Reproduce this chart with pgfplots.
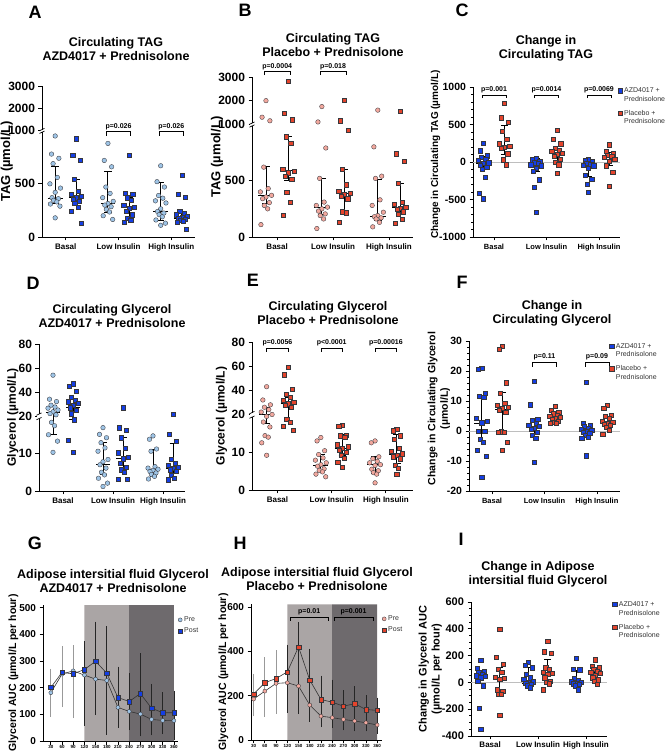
\documentclass[border=0pt]{standalone}
\usepackage{fontspec}
\setmainfont{Liberation Sans}
\usepackage{pgfplots}
\pgfplotsset{compat=1.18}
\usetikzlibrary{calc}

\definecolor{preblue}{RGB}{158,196,230}
\definecolor{postblue}{RGB}{20,62,228}
\definecolor{prered}{RGB}{242,168,158}
\definecolor{postred}{RGB}{228,68,44}
\definecolor{edge}{RGB}{55,55,60}
\definecolor{zl}{RGB}{190,190,190}
\definecolor{shL}{RGB}{170,165,165}
\definecolor{shD}{RGB}{110,106,109}

\newcommand{\tl}[2]{\begin{tabular}[t]{@{}l@{}}#1\\#2\end{tabular}}

\pgfplotsset{
 pc/.style={only marks, mark=*, mark size=2.3pt, mark options={fill=#1, draw=edge, line width=0.35pt}},
 ps/.style={only marks, mark=square*, mark size=2.1pt, mark options={fill=#1, draw=edge, line width=0.35pt}},
 iqr/.style={black, line width=0.9pt, forget plot, mark=none},
 gp/.style={scale only axis, anchor=south west, axis lines=left, axis line style={-, line width=0.9pt},
   tick style={black, line width=0.8pt}, tick align=outside, major tick length=3.5pt, minor tick length=2pt,
   enlargelimits=false, clip=false, xtick={0,1,2}, xticklabels={Basal,Low Insulin,High Insulin},
   xticklabel style={font=\bfseries\fontsize{8}{8}\selectfont},
   yticklabel style={font=\bfseries\fontsize{11}{11}\selectfont},
   /pgf/number format/assume math mode=true, /pgf/number format/1000 sep={},
   ylabel style={font=\bfseries\fontsize{11}{12}\selectfont, anchor=center, align=center},
   legend cell align=left,
   legend style={draw=none, fill=none, font=\fontsize{7}{8.5}\selectfont, text=black!80, row sep=2.5pt, inner sep=0pt, anchor=north west},
 },
 lg2/.style={legend style={row sep=11pt}},
 tagtrafo/.style={
   y coord trafo/.code={\pgfmathparse{(##1>1000)*(1000+0.21*(##1-1000))+(##1<=1000)*(##1)}},
   y coord inv trafo/.code={\pgfmathparse{(##1>1000)*(1000+(##1-1000)/0.21)+(##1<=1000)*(##1)}}},
 glytrafo/.style={
   y coord trafo/.code={\pgfmathparse{(##1>20)*(20+0.32*(##1-20))+(##1<=20)*(##1)}},
   y coord inv trafo/.code={\pgfmathparse{(##1>20)*(20+(##1-20)/0.32)+(##1<=20)*(##1)}}},
}

\newcommand{\mi}[4]{%
 \pgfmathsetmacro{\xa}{#1-0.14}\pgfmathsetmacro{\xb}{#1+0.14}%
 \pgfmathsetmacro{\xc}{#1-0.07}\pgfmathsetmacro{\xd}{#1+0.07}%
 \addplot[iqr] coordinates {(#1,#2) (#1,#4)};
 \addplot[iqr] coordinates {(\xa,#3) (\xb,#3)};
 \addplot[iqr] coordinates {(\xc,#2) (\xd,#2)};
 \addplot[iqr] coordinates {(\xc,#4) (\xd,#4)};}

\newcommand{\pbr}[6]{%
 \draw[line width=0.6pt] (axis cs:#1,#5) -- (axis cs:#1,#4) -- (axis cs:#2,#4) -- (axis cs:#2,#5);
 \node[font=\bfseries\fontsize{7}{7}\selectfont, anchor=south, inner sep=1.5pt] at (axis cs:#3,#4) {#6};}

\newcommand{\brk}[2]{%
 \draw[white, line width=4pt] ({rel axis cs:0,0}|-{axis cs:0,#1}) -- ({rel axis cs:0,0}|-{axis cs:0,#2});
 \draw[line width=0.7pt] ({rel axis cs:0,0}|-{axis cs:0,#1}) ++(-2.5pt,-1.2pt) -- ++(5pt,2.4pt);
 \draw[line width=0.7pt] ({rel axis cs:0,0}|-{axis cs:0,#2}) ++(-2.5pt,-1.2pt) -- ++(5pt,2.4pt);}

\begin{document}
\begin{tikzpicture}
\useasboundingbox (0,0) rectangle (670pt,753pt);

% ---------------- A ----------------
\begin{axis}[gp, tagtrafo, at={(42pt,516pt)}, width=153pt, height=151pt,
 xmin=-0.45, xmax=2.45, ymin=0, ymax=3000,
 ytick={0,500,1000,2000,3000}, yticklabels={0,500,1000,2000,3000},
 yticklabel style={font=\bfseries\fontsize{12}{12}\selectfont},
 ylabel={TAG (µmol/L)}, ylabel style={at={(axis description cs:-0.23,0.5)}, font=\bfseries\fontsize{13}{13}\selectfont},
 after end axis/.code={\brk{985}{1050}}]
\addplot[pc=preblue] coordinates {(-0.2,950) (-0.27,780) (-0.13,740) (-0.24,690) (-0.16,560) (-0.3,500) (-0.1,460) (-0.2,420) (-0.26,370) (-0.14,360) (-0.23,345) (-0.17,330) (-0.29,310) (-0.11,290) (-0.2,180)};
\addplot[ps=postblue] coordinates {(0.2,925) (0.13,770) (0.27,720) (0.16,540) (0.24,430) (0.1,400) (0.3,385) (0.2,370) (0.14,355) (0.26,340) (0.17,320) (0.23,280) (0.11,240) (0.29,130)};
\addplot[pc=preblue] coordinates {(0.8,880) (0.73,720) (0.87,660) (0.76,470) (0.84,410) (0.7,370) (0.9,335) (0.8,315) (0.74,300) (0.86,285) (0.77,260) (0.83,235) (0.71,200) (0.89,165)};
\addplot[ps=postblue] coordinates {(1.2,770) (1.13,410) (1.27,400) (1.16,370) (1.24,350) (1.1,300) (1.3,280) (1.2,270) (1.14,240) (1.26,210) (1.17,180) (1.23,160) (1.11,140)};
\addplot[pc=preblue] coordinates {(1.8,670) (1.73,520) (1.87,470) (1.76,390) (1.84,365) (1.7,340) (1.9,320) (1.8,265) (1.74,240) (1.86,225) (1.77,210) (1.83,190) (1.71,160) (1.89,130) (1.8,110)};
\addplot[ps=postblue] coordinates {(2.2,580) (2.13,400) (2.27,375) (2.16,240) (2.24,225) (2.1,210) (2.3,195) (2.2,185) (2.14,175) (2.26,165) (2.17,155) (2.23,150) (2.11,140) (2.29,75)};
\mi{-0.2}{320}{365}{660}
\mi{0.2}{296}{375}{540}
\mi{0.8}{230}{312}{615}
\mi{1.2}{190}{276}{375}
\mi{1.8}{160}{237}{516}
\mi{2.2}{150}{178}{243}
\pbr{0.77}{1.23}{1}{990}{950}{p=0.026}
\pbr{1.77}{2.23}{2}{990}{950}{p=0.026}
\end{axis}

% ---------------- B ----------------
\begin{axis}[gp, tagtrafo, at={(252pt,516pt)}, width=161pt, height=160pt,
 xmin=-0.45, xmax=2.43, ymin=0, ymax=3000,
 ytick={0,500,1000,2000,3000}, yticklabels={0,500,1000,2000,3000},
 yticklabel style={font=\bfseries\fontsize{12}{12}\selectfont},
 ylabel={TAG (µmol/L)}, ylabel style={at={(axis description cs:-0.217,0.5)}, font=\bfseries\fontsize{13}{13}\selectfont},
 after end axis/.code={\brk{985}{1050}}]
\addplot[pc=prered] coordinates {(-0.2,2000) (-0.27,1300) (-0.13,1150) (-0.24,620) (-0.16,430) (-0.3,400) (-0.1,370) (-0.2,355) (-0.26,340) (-0.14,305) (-0.23,280) (-0.17,250) (-0.29,110)};
\addplot[ps=postred] coordinates {(0.2,2840) (0.13,1460) (0.27,1200) (0.16,890) (0.24,830) (0.1,600) (0.3,585) (0.2,570) (0.14,540) (0.26,510) (0.17,400) (0.23,310) (0.11,195)};
\addplot[pc=prered] coordinates {(0.8,1750) (0.73,1100) (0.87,790) (0.76,520) (0.84,310) (0.7,280) (0.9,265) (0.8,250) (0.74,230) (0.86,205) (0.77,190) (0.83,160) (0.71,75)};
\addplot[ps=postred] coordinates {(1.2,2030) (1.13,1150) (1.27,950) (1.16,600) (1.24,465) (1.1,410) (1.3,390) (1.2,380) (1.14,360) (1.26,340) (1.17,225) (1.23,215) (1.11,135)};
\addplot[pc=prered] coordinates {(1.8,1600) (1.73,800) (1.87,540) (1.76,520) (1.84,330) (1.7,280) (1.9,220) (1.8,190) (1.74,180) (1.86,170) (1.77,160) (1.83,130) (1.71,90)};
\addplot[ps=postred] coordinates {(2.2,1560) (2.13,740) (2.27,670) (2.16,480) (2.24,310) (2.1,290) (2.3,265) (2.2,255) (2.14,250) (2.26,225) (2.17,205) (2.23,160) (2.11,120)};
\mi{-0.2}{296}{372}{622}
\mi{0.2}{500}{591}{890}
\mi{0.8}{204}{265}{524}
\mi{1.2}{220}{387}{600}
\mi{1.8}{143}{183}{509}
\mi{2.2}{204}{265}{479}
\pbr{-0.23}{0.23}{0}{3220}{3080}{p=0.0004}
\pbr{0.77}{1.23}{1}{3220}{3080}{p=0.018}
\end{axis}

% ---------------- C ----------------
\begin{axis}[gp, lg2, at={(473pt,516pt)}, width=147pt, height=150pt,
 xmin=-0.4, xmax=2.4, ymin=-1000, ymax=1000, ytick={-1000,-500,0,500,1000}, minor y tick num=4,
 xticklabel style={font=\bfseries\fontsize{7.5}{7.5}\selectfont},
 yticklabel style={font=\bfseries\fontsize{10.5}{10.5}\selectfont},
 ylabel={Change in Circulating TAG (µmol/L)}, ylabel style={at={(axis description cs:-0.255,0.55)}, font=\bfseries\fontsize{10}{10}\selectfont},
 legend style={at={(0.985,1.015)}}]
\addplot[zl, line width=0.8pt, forget plot] coordinates {(-0.4,0) (2.4,0)};
\addlegendimage{ps=postblue}\addlegendentry{\tl{AZD4017 +}{Prednisolone}}
\addlegendimage{ps=postred}\addlegendentry{\tl{Placebo +}{Prednisolone}}
\addplot[ps=postblue] coordinates {(-0.2,255) (-0.27,150) (-0.13,85) (-0.24,60) (-0.16,40) (-0.3,20) (-0.1,-10) (-0.2,-15) (-0.26,-45) (-0.14,-70) (-0.23,-100) (-0.17,-205) (-0.29,-420) (-0.2,-490)};
\addplot[ps=postred] coordinates {(0.2,785) (0.13,590) (0.27,530) (0.16,410) (0.24,300) (0.1,245) (0.3,210) (0.2,200) (0.14,185) (0.26,110) (0.17,30) (0.23,-35)};
\addplot[ps=postblue] coordinates {(0.8,45) (0.73,30) (0.87,10) (0.76,-10) (0.84,-20) (0.7,-35) (0.9,-50) (0.8,-80) (0.74,-125) (0.86,-235) (0.77,-340) (0.8,-670)};
\addplot[ps=postred] coordinates {(1.2,420) (1.13,305) (1.27,245) (1.16,180) (1.24,160) (1.1,140) (1.3,120) (1.2,100) (1.14,75) (1.26,40) (1.17,0) (1.23,-35) (1.2,-145)};
\addplot[ps=postblue] coordinates {(1.8,40) (1.73,20) (1.87,10) (1.76,-15) (1.84,-25) (1.7,-40) (1.9,-50) (1.8,-80) (1.74,-180) (1.86,-225) (1.77,-300) (1.8,-400)};
\addplot[ps=postred] coordinates {(2.2,230) (2.13,140) (2.27,110) (2.16,95) (2.24,75) (2.1,60) (2.3,40) (2.2,10) (2.14,-50) (2.26,-140) (2.2,-325)};
\mi{-0.2}{-100}{-13}{75}
\mi{0.2}{98}{209}{484}
\mi{0.8}{-124}{-22}{53}
\mi{1.2}{-4}{133}{187}
\mi{1.8}{-190}{-13}{40}
\mi{2.2}{-49}{67}{129}
\pbr{-0.23}{0.23}{0}{893}{850}{p=0.001}
\pbr{0.77}{1.23}{1}{893}{850}{p=0.0014}
\pbr{1.77}{2.23}{2}{893}{850}{p=0.0069}
\end{axis}

% ---------------- D ----------------
\begin{axis}[gp, glytrafo, at={(39pt,262pt)}, width=146pt, height=147pt,
 xmin=-0.48, xmax=2.44, ymin=0, ymax=80,
 ytick={0,10,20,40,60,80}, yticklabels={0,10,20,40,60,80},
 yticklabel style={font=\bfseries\fontsize{12}{12}\selectfont},
 ylabel={Glycerol (µmol/L)}, ylabel style={at={(axis description cs:-0.18,0.5)}, font=\bfseries\fontsize{12}{12}\selectfont},
 after end axis/.code={\brk{19.3}{21.6}}]
\addplot[pc=preblue] coordinates {(-0.2,54) (-0.27,34) (-0.13,32) (-0.24,29) (-0.16,27.5) (-0.3,26.5) (-0.1,25) (-0.2,23.5) (-0.26,22) (-0.14,21) (-0.23,18.3) (-0.17,17.4) (-0.29,15) (-0.11,13.3) (-0.2,10.3)};
\addplot[ps=postblue] coordinates {(0.2,47) (0.13,45) (0.27,41) (0.16,36) (0.24,33.5) (0.1,32) (0.3,30.5) (0.2,29) (0.14,27) (0.26,25) (0.17,22) (0.23,19) (0.11,13.6) (0.2,10.4)};
\addplot[pc=preblue] coordinates {(0.8,16.9) (0.73,15.1) (0.87,14.2) (0.76,12.9) (0.84,11.5) (0.7,10.6) (0.9,8.4) (0.8,7.8) (0.74,7) (0.86,6.1) (0.77,5) (0.83,4.3) (0.71,3.4) (0.89,2.1) (0.8,1.2)};
\addplot[ps=postblue] coordinates {(1.2,27) (1.13,16.9) (1.27,16.3) (1.16,14.2) (1.24,11.5) (1.1,10.2) (1.3,9) (1.2,8.6) (1.14,7.5) (1.26,6.4) (1.17,5.7) (1.23,5) (1.11,3.2) (1.29,3.1)};
\addplot[pc=preblue] coordinates {(1.8,14.7) (1.73,13.8) (1.87,11.2) (1.76,10.6) (1.84,6.5) (1.7,6.1) (1.9,5.8) (1.8,5.5) (1.74,5.2) (1.86,4.8) (1.77,4.4) (1.83,3.9) (1.71,3.2)};
\addplot[ps=postblue] coordinates {(2.2,21.5) (2.13,15.1) (2.27,13.3) (2.16,8.4) (2.24,7.5) (2.1,6.8) (2.3,6.4) (2.2,6.1) (2.14,5.7) (2.26,5.3) (2.17,4.3) (2.23,3.4) (2.11,3)};
\mi{-0.2}{15.1}{22.6}{28.6}
\mi{0.2}{19.2}{26.9}{33.4}
\mi{0.8}{4.3}{7}{12.9}
\mi{1.2}{5.9}{8.6}{14.2}
\mi{1.8}{3.9}{5.7}{11.1}
\mi{2.2}{3.9}{5.9}{12.6}
\end{axis}

% ---------------- E ----------------
\begin{axis}[gp, glytrafo, at={(252pt,263pt)}, width=161pt, height=148pt,
 xmin=-0.47, xmax=2.5, ymin=0, ymax=80,
 ytick={0,10,20,40,60,80}, yticklabels={0,10,20,40,60,80},
 yticklabel style={font=\bfseries\fontsize{12}{12}\selectfont},
 ylabel={Glycerol (µmol/L)}, ylabel style={at={(axis description cs:-0.19,0.5)}, font=\bfseries\fontsize{12}{12}\selectfont},
 after end axis/.code={\brk{19.3}{21.6}}]
\addplot[pc=prered] coordinates {(-0.2,43) (-0.27,32) (-0.13,28) (-0.24,26) (-0.16,24) (-0.3,22) (-0.1,20) (-0.2,19.5) (-0.26,18) (-0.14,16.7) (-0.23,14.4) (-0.17,14) (-0.29,12.5) (-0.2,9.2)};
\addplot[ps=postred] coordinates {(0.2,59) (0.13,53) (0.27,41) (0.16,37) (0.24,34.5) (0.1,32) (0.3,30.5) (0.2,29) (0.14,27.5) (0.26,26) (0.17,18.7) (0.23,18) (0.11,17) (0.29,15.9)};
\addplot[pc=prered] coordinates {(0.8,13.9) (0.73,13) (0.87,10.4) (0.76,9.4) (0.84,8.5) (0.7,7.9) (0.9,7.2) (0.8,6.7) (0.74,6.3) (0.86,5.6) (0.77,5.2) (0.83,4.8) (0.71,4.2) (0.89,3.5)};
\addplot[ps=postred] coordinates {(1.2,17.1) (1.13,16.8) (1.27,14.6) (1.16,14.4) (1.24,13.9) (1.1,12) (1.3,11.5) (1.2,11.1) (1.14,10.6) (1.26,10) (1.17,9.3) (1.23,8.5) (1.11,7.4) (1.2,6)};
\addplot[pc=prered] coordinates {(1.8,13) (1.73,12.5) (1.87,8.8) (1.76,8.3) (1.84,7.6) (1.7,7.2) (1.9,6.7) (1.8,6.5) (1.74,5.5) (1.86,5.1) (1.77,4.6) (1.83,4.2) (1.8,1.9)};
\addplot[ps=postred] coordinates {(2.2,16.2) (2.13,15.7) (2.27,14.4) (2.16,13.4) (2.24,11) (2.1,10.2) (2.3,9.6) (2.2,9.3) (2.14,8.8) (2.26,8.3) (2.17,6.5) (2.23,5.7) (2.2,4.2)};
\mi{-0.2}{17.6}{19.9}{26.2}
\mi{0.2}{18.5}{29}{34.5}
\mi{0.8}{5.1}{6.5}{9.4}
\mi{1.2}{9.1}{11.1}{14.6}
\mi{1.8}{4.4}{6.7}{8.8}
\mi{2.2}{6.9}{9.3}{14.6}
\pbr{-0.2}{0.2}{0}{75}{72}{p=0.0056}
\pbr{0.8}{1.2}{1}{75}{72}{p<0.0001}
\pbr{1.8}{2.2}{2}{75}{72}{p=0.00016}
\end{axis}

% ---------------- F ----------------
\begin{axis}[gp, lg2, at={(469pt,262pt)}, width=151pt, height=150pt,
 xmin=-0.44, xmax=2.44, ymin=-20, ymax=30, ytick={-20,-10,0,10,20,30}, minor y tick num=4,
 xticklabel style={font=\bfseries\fontsize{7.5}{7.5}\selectfont},
 yticklabel style={font=\bfseries\fontsize{10.5}{10.5}\selectfont},
 ylabel={Change in Circulating Glycerol\\(µmol/L)}, ylabel style={at={(axis description cs:-0.2,0.55)}, font=\bfseries\fontsize{10.5}{12.5}\selectfont},
 legend style={at={(0.93,1.005)}}]
\addplot[zl, line width=0.8pt, forget plot] coordinates {(-0.44,0) (2.44,0)};
\addlegendimage{ps=postblue}\addlegendentry{\tl{AZD4017 +}{Prednisolone}}
\addlegendimage{ps=postred}\addlegendentry{\tl{Placebo +}{Prednisolone}}
\addplot[ps=postblue] coordinates {(-0.2,21) (-0.27,20.5) (-0.13,12.5) (-0.24,11.7) (-0.16,11.4) (-0.3,4.2) (-0.1,3.4) (-0.2,2.8) (-0.26,0) (-0.14,0) (-0.23,-2.8) (-0.17,-3.6) (-0.29,-6.3) (-0.11,-8.5) (-0.2,-15.4)};
\addplot[ps=postred] coordinates {(0.2,28.3) (0.13,27.3) (0.27,16.1) (0.16,12.6) (0.24,9.4) (0.1,8.7) (0.3,8) (0.2,7.5) (0.14,7) (0.26,6.4) (0.17,-0.2) (0.23,-0.3) (0.11,-0.5) (0.29,-3.8) (0.2,-6.3)};
\addplot[ps=postblue] coordinates {(0.8,16.5) (0.73,8.8) (0.87,4) (0.76,3.5) (0.84,2.5) (0.7,2) (0.9,1.5) (0.8,1) (0.74,0.5) (0.86,-0.5) (0.77,-1.5) (0.83,-2.3) (0.8,-10.5)};
\addplot[ps=postred] coordinates {(1.2,8.2) (1.13,7) (1.27,6.4) (1.16,5.8) (1.24,5.3) (1.1,4.9) (1.3,4.5) (1.2,4.2) (1.14,3.8) (1.26,3.4) (1.17,3) (1.23,2.7) (1.11,2.5)};
\addplot[ps=postblue] coordinates {(1.8,16.3) (1.73,2.5) (1.87,2) (1.76,1.6) (1.84,1) (1.7,0.5) (1.9,0.3) (1.8,0) (1.74,-0.3) (1.86,-0.8) (1.77,-1.3) (1.83,-2) (1.71,-2.5) (1.8,-8.2)};
\addplot[ps=postred] coordinates {(2.2,8.6) (2.13,7.5) (2.27,5.3) (2.16,4.9) (2.24,4.2) (2.1,3.4) (2.3,3) (2.2,2.7) (2.14,2.2) (2.26,2) (2.17,1.2) (2.23,0.3) (2.11,-1)};
\mi{-0.2}{-3.6}{2.6}{11.4}
\mi{0.2}{-0.2}{7.3}{12.8}
\mi{0.8}{-0.8}{1.4}{3.1}
\mi{1.2}{3.1}{4.2}{6}
\mi{1.8}{-0.8}{0.3}{1.4}
\mi{2.2}{1.4}{2.7}{4.9}
\pbr{0.77}{1.23}{1}{23}{21.5}{p=0.11}
\pbr{1.77}{2.23}{2}{23}{21.5}{p=0.09}
\end{axis}

% ---------------- G ----------------
\begin{axis}[gp, at={(43pt,12pt)}, width=135pt, height=136pt,
 xmin=9, xmax=371, ymin=0, ymax=510,
 xtick={30,60,90,120,150,180,210,240,270,300,330,360},
 xticklabels={30,60,90,120,150,180,210,240,270,300,330,360},
 xticklabel style={font=\bfseries\fontsize{4.5}{4.5}\selectfont, inner sep=1pt},
 ytick={0,100,200,300,400,500},
 yticklabel style={font=\bfseries\fontsize{10}{10}\selectfont},
 ylabel={Glycerol AUC (µmol/L per hour)}, ylabel style={at={(axis description cs:-0.22,0.5)}, font=\bfseries\fontsize{10.5}{10.5}\selectfont},
 legend style={at={(1.0,0.93)}, row sep=1pt}]
\addplot[fill=shL, draw=none, forget plot] coordinates {(120,0) (120,510) (240,510) (240,0)} \closedcycle;
\addplot[fill=shD, draw=none, forget plot] coordinates {(240,0) (240,510) (360,510) (360,0)} \closedcycle;
\addplot[draw=none, mark=none, forget plot, error bars/.cd, y dir=both, y explicit,
  error bar style={draw=black!40, line width=0.8pt}, error mark options={draw=black!40, line width=0.8pt, mark size=3pt}]
  coordinates {(30,181) +- (0,78) (60,241) +- (0,103) (90,222) +- (0,125)};
\addplot[draw=none, mark=none, forget plot, error bars/.cd, y dir=both, y explicit,
  error bar style={draw=black!85, line width=0.8pt}, error mark options={draw=black!85, line width=0.8pt, mark size=3pt}]
  coordinates {(120,216) +- (0,147) (150,272) +- (0,164) (180,227) +- (0,192) (210,164) +- (0,104) (240,147.5) +- (0,95.5) (270,173.5) +- (0,144.5) (300,117.5) +- (0,85.5) (330,104) +- (0,67) (360,96) +- (0,82)};
\addlegendimage{only marks, mark=*, mark size=2pt, mark options={fill=preblue, draw=edge, line width=0.35pt}}\addlegendentry{Pre}
\addlegendimage{only marks, mark=square*, mark size=2pt, mark options={fill=postblue, draw=edge, line width=0.35pt}}\addlegendentry{Post}
\addplot[black!80, line width=0.6pt, mark=*, mark size=2pt, mark options={fill=preblue, draw=edge, line width=0.35pt}] coordinates {(30,181) (60,251) (90,263) (120,247) (150,232) (180,227) (210,126) (240,111) (270,101) (300,81) (330,77) (360,76)};
\addplot[black!80, line width=0.6pt, mark=square*, mark size=2.2pt, mark options={fill=postblue, draw=edge, line width=0.35pt}] coordinates {(30,201) (60,257) (90,252) (120,268) (150,299) (180,254) (210,163) (240,148) (270,178) (300,123) (330,106) (360,106)};
\end{axis}

% ---------------- H ----------------
\begin{axis}[gp, at={(251pt,13pt)}, width=131pt, height=136pt,
 xmin=23, xmax=373, ymin=0, ymax=615,
 xtick={30,60,90,120,150,180,210,240,270,300,330,360},
 xticklabels={30,60,90,120,150,180,210,240,270,300,330,360},
 xticklabel style={font=\bfseries\fontsize{4.5}{4.5}\selectfont, inner sep=1pt},
 ytick={0,200,400,600},
 yticklabel style={font=\bfseries\fontsize{10}{10}\selectfont},
 ylabel={Glycerol AUC (µmol/L per hour)}, ylabel style={at={(axis description cs:-0.21,0.5)}, font=\bfseries\fontsize{10.5}{10.5}\selectfont},
 legend style={at={(1.0,0.93)}, row sep=1pt}]
\addplot[fill=shL, draw=none, forget plot] coordinates {(120,0) (120,613) (240,613) (240,0)} \closedcycle;
\addplot[fill=shD, draw=none, forget plot] coordinates {(240,0) (240,613) (360,613) (360,0)} \closedcycle;
\addplot[draw=none, mark=none, forget plot, error bars/.cd, y dir=both, y explicit,
  error bar style={draw=black!40, line width=0.8pt}, error mark options={draw=black!40, line width=0.8pt, mark size=3pt}]
  coordinates {(30,203.5) +- (0,83.5) (60,239) +- (0,121) (90,262.5) +- (0,129.5)};
\addplot[draw=none, mark=none, forget plot, error bars/.cd, y dir=both, y explicit,
  error bar style={draw=black!85, line width=0.8pt}, error mark options={draw=black!85, line width=0.8pt, mark size=3pt}]
  coordinates {(120,277.5) +- (0,140.5) (150,325) +- (0,193) (180,248) +- (0,152) (210,175) +- (0,103) (240,163.5) +- (0,95.5) (270,134.5) +- (0,77.5) (300,141.5) +- (0,88.5) (330,120.5) +- (0,67.5) (360,110) +- (0,68)};
\addlegendimage{only marks, mark=*, mark size=2pt, mark options={fill=prered, draw=edge, line width=0.35pt}}\addlegendentry{Pre}
\addlegendimage{only marks, mark=square*, mark size=2pt, mark options={fill=postred, draw=edge, line width=0.35pt}}\addlegendentry{Post}
\addplot[black!80, line width=0.6pt, mark=*, mark size=2pt, mark options={fill=prered, draw=edge, line width=0.35pt}] coordinates {(30,185) (60,221) (90,256) (120,259) (150,244) (180,158) (210,108) (240,101) (270,93) (300,86) (330,78) (360,68)};
\addplot[black!80, line width=0.6pt, mark=square*, mark size=2.2pt, mark options={fill=postred, draw=edge, line width=0.35pt}] coordinates {(30,208) (60,259) (90,278) (120,308) (150,421) (180,271) (210,183) (240,171) (270,153) (300,164) (330,138) (360,134)};
\pbr{128}{229}{178.5}{556}{540}{p=0.01}
\pbr{245}{349}{297}{556}{540}{p=0.001}
\end{axis}

% ---------------- I ----------------
\begin{axis}[gp, lg2, at={(471pt,17pt)}, width=136pt, height=134pt,
 xmin=-0.4, xmax=2.44, ymin=-400, ymax=600, ytick={-400,-200,0,200,400,600}, minor y tick num=3,
 xticklabel style={font=\bfseries\fontsize{8}{8}\selectfont, inner sep=2pt},
 ylabel={Change in Glycerol AUC\\(µmol/L per hour)}, ylabel style={at={(axis description cs:-0.30,0.5)}, font=\bfseries\fontsize{11}{13}\selectfont},
 legend style={at={(1.04,1.025)}}]
\addplot[zl, line width=0.8pt, forget plot] coordinates {(-0.4,0) (2.44,0)};
\addlegendimage{ps=postblue}\addlegendentry{\tl{AZD4017 +}{Prednisolone}}
\addlegendimage{ps=postred}\addlegendentry{\tl{Placebo +}{Prednisolone}}
\addplot[ps=postblue] coordinates {(-0.2,165) (-0.27,105) (-0.13,85) (-0.24,75) (-0.16,60) (-0.3,50) (-0.1,45) (-0.2,35) (-0.26,10) (-0.14,-25) (-0.23,-190) (-0.2,-350)};
\addplot[ps=postred] coordinates {(0.2,395) (0.13,190) (0.27,135) (0.16,100) (0.24,75) (0.1,40) (0.3,30) (0.2,25) (0.14,-55) (0.26,-65) (0.17,-85) (0.23,-85) (0.2,-245)};
\addplot[ps=postblue] coordinates {(0.8,150) (0.73,130) (0.87,110) (0.76,60) (0.84,35) (0.7,25) (0.9,5) (0.8,0) (0.74,-5) (0.86,-12) (0.77,-25) (0.83,-40)};
\addplot[ps=postred] coordinates {(1.2,305) (1.13,230) (1.27,220) (1.16,110) (1.24,100) (1.1,75) (1.3,68) (1.2,60) (1.14,35) (1.26,10) (1.17,0) (1.23,-10) (1.11,-55)};
\addplot[ps=postblue] coordinates {(1.8,180) (1.73,100) (1.87,95) (1.76,30) (1.84,15) (1.7,5) (1.9,0) (1.8,-5) (1.74,-10) (1.86,-15) (1.77,-25) (1.83,-55)};
\addplot[ps=postred] coordinates {(2.2,170) (2.13,120) (2.27,110) (2.16,100) (2.24,85) (2.1,75) (2.3,70) (2.2,55) (2.14,35) (2.26,20) (2.17,10) (2.23,-15)};
\mi{-0.2}{24}{49}{85}
\mi{0.2}{-68}{32}{110}
\mi{0.8}{-32}{-5}{110}
\mi{1.2}{7}{68}{171}
\mi{1.8}{-24}{-7}{90}
\mi{2.2}{24}{73}{110}
\end{axis}

% ---------------- titles and panel letters ----------------
\tikzset{ttl/.style={font=\bfseries\fontsize{12.5}{14}\selectfont, align=center},
         ltr/.style={font=\bfseries\fontsize{18}{18}\selectfont}}
\node[ttl] at (116pt,704pt) {Circulating TAG\\AZD4017 + Prednisolone};
\node[ttl] at (333pt,708pt) {Circulating TAG\\Placebo + Prednisolone};
\node[ttl] at (546pt,705pt) {Change in\\Circulating TAG};
\node[ttl] at (112pt,437pt) {Circulating Glycerol\\AZD4017 + Prednisolone};
\node[ttl] at (328pt,440pt) {Circulating Glycerol\\Placebo + Prednisolone};
\node[ttl] at (552pt,439.5pt) {Change in\\Circulating Glycerol};
\node[ttl] at (113pt,172pt) {Adipose intersitial fluid Glycerol\\AZD4017 + Prednisolone};
\node[ttl] at (317pt,174pt) {Adipose intersitial fluid Glycerol\\Placebo + Prednisolone};
\node[ttl] at (538pt,179pt) {Change in Adipose\\intersitial fluid Glycerol};
\node[ltr] at (35pt,741pt) {A};
\node[ltr] at (245pt,743pt) {B};
\node[ltr] at (462pt,743pt) {C};
\node[ltr] at (33pt,470pt) {D};
\node[ltr] at (253pt,473pt) {E};
\node[ltr] at (462pt,471pt) {F};
\node[ltr] at (35pt,210pt) {G};
\node[ltr] at (240pt,210pt) {H};
\node[ltr] at (461pt,214pt) {I};
\end{tikzpicture}
\end{document}
